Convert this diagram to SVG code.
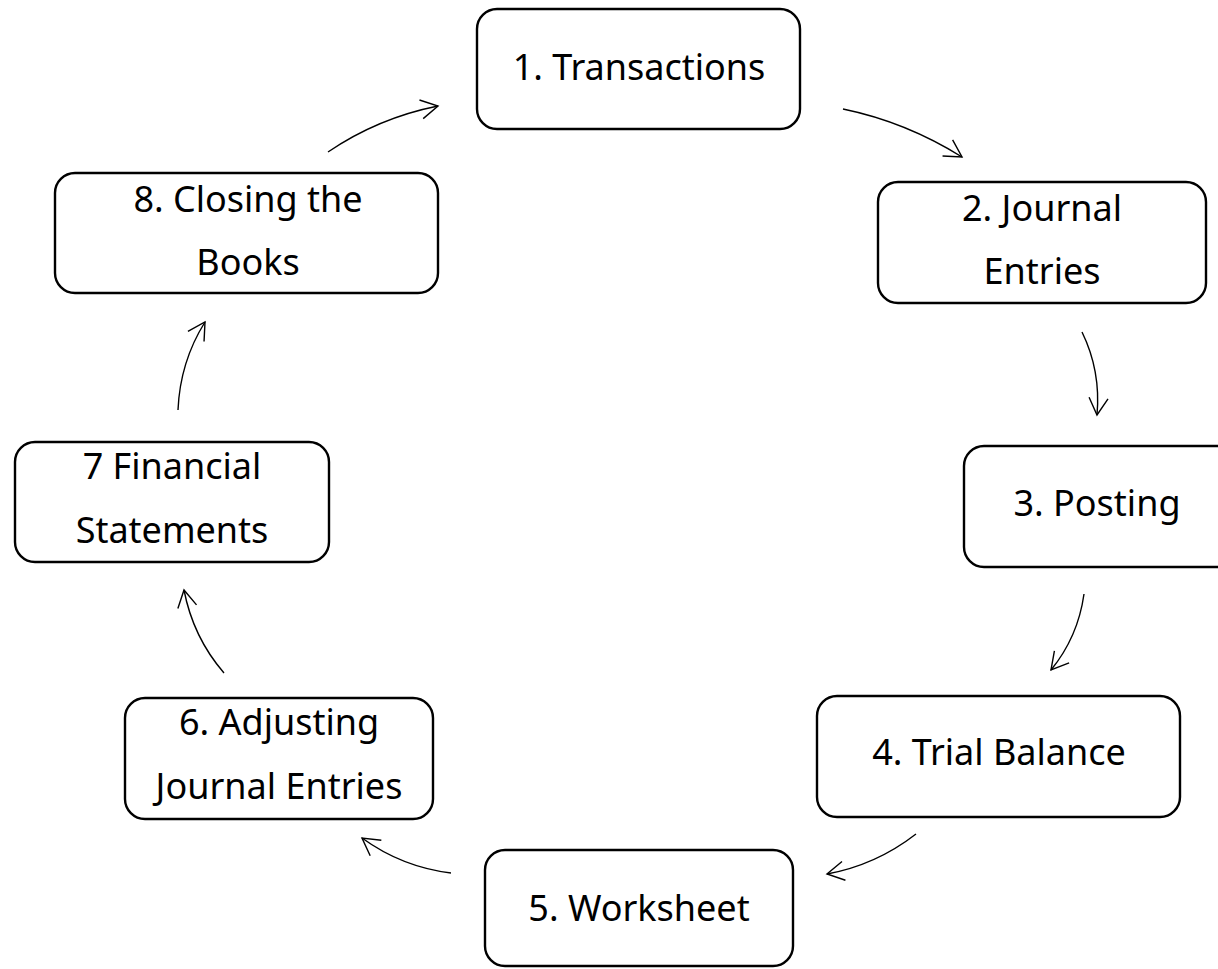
<svg xmlns="http://www.w3.org/2000/svg" width="1218" height="969" viewBox="0 0 1218 969">
<style>
.box{fill:#fff;stroke:#000;stroke-width:2.4}
.lbl{font-family:"Noto Sans","Open Sans",sans-serif;font-size:36px;fill:#000;text-anchor:middle}
.arr{fill:none;stroke:#000;stroke-width:1.4;marker-end:url(#ah)}
</style>
<defs>
<marker id="ah" markerUnits="userSpaceOnUse" markerWidth="30" markerHeight="30" viewBox="-20 -15 24 30" refX="0" refY="0" orient="auto">
<path d="M-17,-9.5 L0,0 L-17,9.5" fill="none" stroke="#000" stroke-width="1.4"/>
</marker>
</defs>
<rect width="1218" height="969" fill="#fff"/>
<g id="node1"><rect class="box" x="477" y="9" width="323" height="120" rx="20"/><text class="lbl" x="639" y="80">1. Transactions</text></g>
<g id="node2"><rect class="box" x="878" y="182" width="328" height="121" rx="20"/><text class="lbl" x="1042" y="221">2. Journal</text><text class="lbl" x="1042" y="284">Entries</text></g>
<g id="node3"><rect class="box" x="964" y="446" width="276" height="121" rx="20"/><text class="lbl" x="1097" y="516">3. Posting</text></g>
<g id="node4"><rect class="box" x="817" y="696" width="363" height="121" rx="20"/><text class="lbl" x="999" y="765">4. Trial Balance</text></g>
<g id="node5"><rect class="box" x="485" y="850" width="308" height="116" rx="20"/><text class="lbl" x="639" y="921">5. Worksheet</text></g>
<g id="node6"><rect class="box" x="125" y="698" width="308" height="121" rx="20"/><text class="lbl" x="279" y="735">6. Adjusting</text><text class="lbl" x="279" y="799">Journal Entries</text></g>
<g id="node7"><rect class="box" x="15" y="442" width="314" height="120" rx="20"/><text class="lbl" x="172" y="479">7 Financial</text><text class="lbl" x="172" y="543">Statements</text></g>
<g id="node8"><rect class="box" x="55" y="173" width="383" height="120" rx="20"/><text class="lbl" x="248" y="212">8. Closing the</text><text class="lbl" x="248" y="275">Books</text></g>
<g id="connectors">
<path class="arr" d="M328,152 Q378,118 438,106"/>
<path class="arr" d="M843,109 Q906,122 962,157"/>
<path class="arr" d="M1082,332 Q1101,371 1097,415"/>
<path class="arr" d="M1084,594 Q1078,637 1051,670"/>
<path class="arr" d="M916,834 Q876,865 827,874"/>
<path class="arr" d="M451,873 Q402,867 362,838"/>
<path class="arr" d="M224,673 Q193,637 184,590"/>
<path class="arr" d="M178,410 Q180,362 205,322"/>
</g>
</svg>
